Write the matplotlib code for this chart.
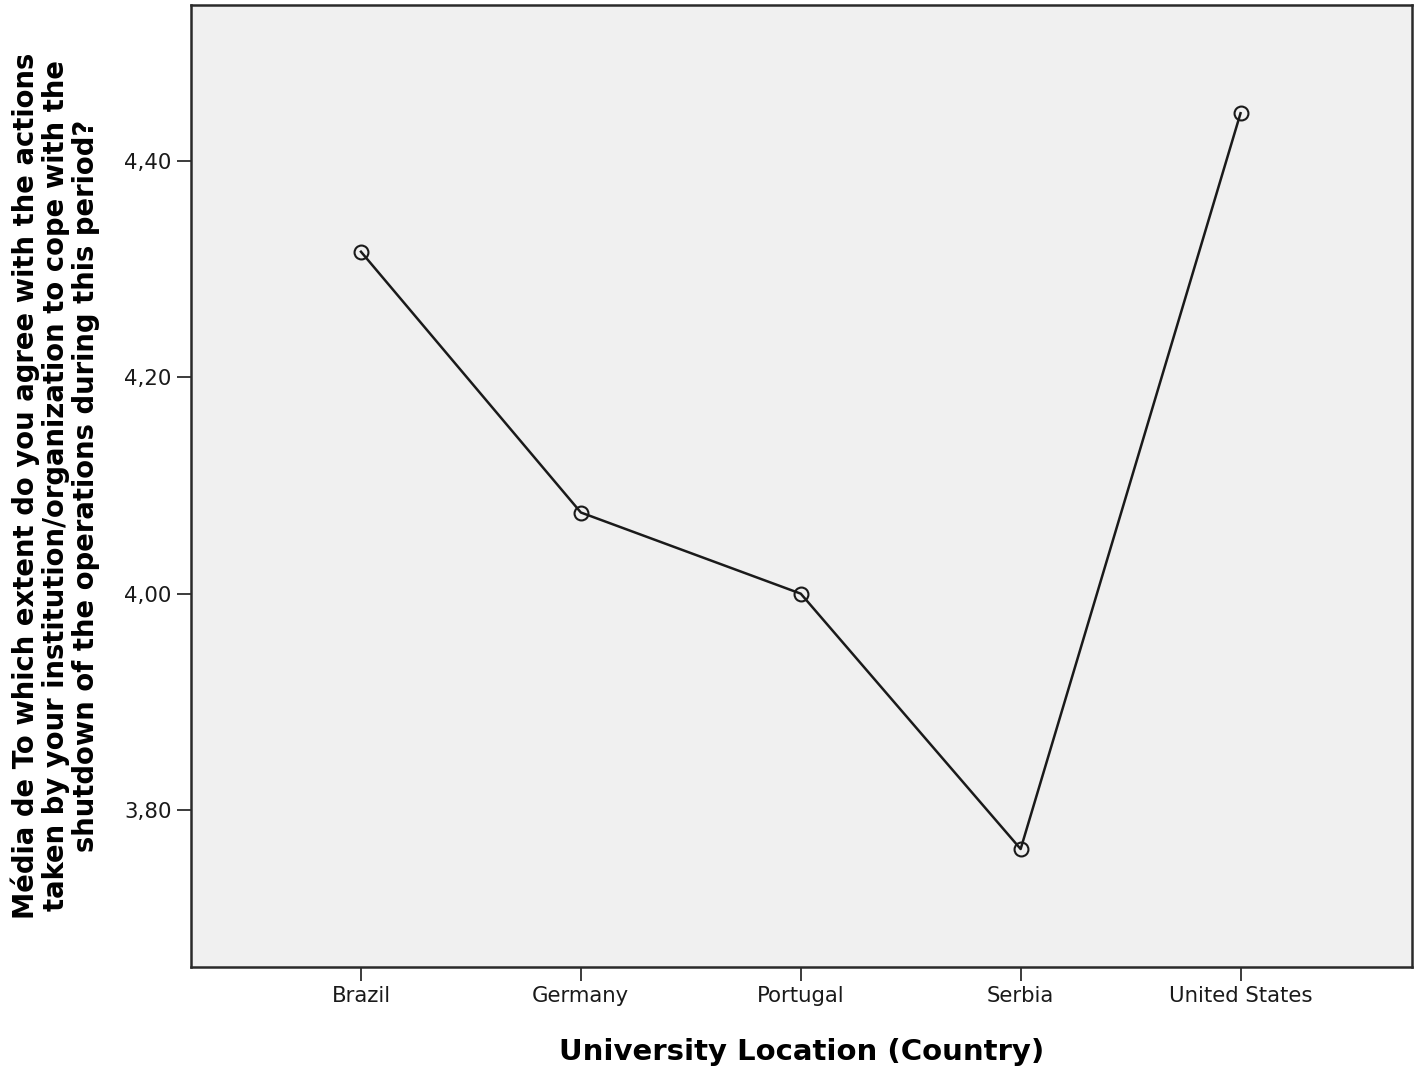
import matplotlib
matplotlib.use("Agg")
import matplotlib.pyplot as plt
from matplotlib.ticker import FuncFormatter

# data
countries = ["Brazil", "Germany", "Portugal", "Serbia", "United States"]
means = [4.316, 4.075, 4.000, 3.764, 4.444]
yticks = [3.80, 4.00, 4.20, 4.40]

plt.rcParams['font.family'] = ['DejaVu Sans']

fig = plt.figure(figsize=(14.18, 10.70), dpi=100)
ax = fig.add_axes([0.1347, 0.0963, 0.8611, 0.8990])
ax.set_facecolor('#f0f0f0')

x = list(range(len(countries)))
ax.plot(x, means, color='#1a1a1a', linewidth=1.8, marker='o', markersize=10,
        markerfacecolor='none', markeredgecolor='#1a1a1a', markeredgewidth=1.5)

ax.set_xlim(-0.773, 4.78)
ax.set_ylim(3.655, 4.544)
ax.set_xticks(x)
ax.set_xticklabels(countries)
ax.set_yticks(yticks)
ax.yaxis.set_major_formatter(FuncFormatter(lambda v, p: f"{v:.2f}".replace('.', ',')))
ax.tick_params(direction='out', length=10, width=1.2, labelsize=15.3, colors='#1a1a1a', pad=4)

for s in ax.spines.values():
    s.set_color('#2a2a2a')
    s.set_linewidth(1.8)

ax.set_xlabel("University Location (Country)", fontsize=21, fontweight='bold', labelpad=23)
ax.set_ylabel("Média de To which extent do you agree with the actions\n"
              "taken by your institution/organization to cope with the\n"
              "shutdown of the operations during this period?",
              fontsize=19.8, fontweight='bold', labelpad=17, linespacing=1.1)

fig.savefig("out.png", dpi=100)
